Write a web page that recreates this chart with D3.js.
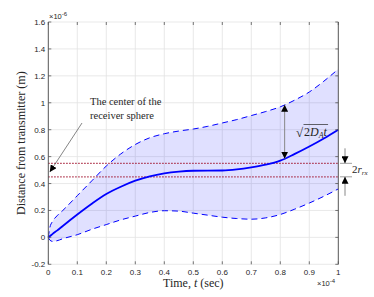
<!DOCTYPE html>
<html>
<head>
<meta charset="utf-8">
<script src="https://cdn.jsdelivr.net/npm/d3@7"></script>
<style>
  body { margin: 0; background: #fff; }
  .tick-label { font-family: 'Liberation Sans', Arial, sans-serif; font-size: 8px; fill: #262626; }
  .serif { font-family: 'Liberation Serif', 'Times New Roman', serif; fill: #262626; }
</style>
</head>
<body>
<div class="container"></div>
<script>
// time in units of 1e-4 s, distances in units of 1e-6 m
const time = [0, 0.005, 0.015, 0.03, 0.05, 0.1, 0.15, 0.2, 0.25, 0.3, 0.35, 0.4, 0.45, 0.5, 0.55, 0.6, 0.65, 0.7, 0.75, 0.8, 0.85, 0.9, 0.95, 1.0];
const meanDist = [0, 0.008, 0.026, 0.05, 0.085, 0.17, 0.25, 0.322, 0.376, 0.421, 0.454, 0.476, 0.489, 0.495, 0.496, 0.497, 0.505, 0.52, 0.54, 0.57, 0.62, 0.675, 0.735, 0.80];
const upperDist = [0, 0.07, 0.12, 0.16, 0.2, 0.31, 0.42, 0.53, 0.62, 0.69, 0.74, 0.77, 0.79, 0.805, 0.825, 0.85, 0.875, 0.905, 0.935, 0.97, 1.02, 1.08, 1.16, 1.25];
const lowerDist = [0, -0.02, -0.03, -0.025, -0.01, 0.02, 0.06, 0.095, 0.13, 0.158, 0.185, 0.198, 0.195, 0.18, 0.165, 0.15, 0.14, 0.135, 0.145, 0.17, 0.21, 0.255, 0.305, 0.36];
const rxLevels = [0.45, 0.55];
const xTicks = [0, 0.1, 0.2, 0.3, 0.4, 0.5, 0.6, 0.7, 0.8, 0.9, 1];
const yTicks = [-0.2, 0, 0.2, 0.4, 0.6, 0.8, 1, 1.2, 1.4, 1.6];
const arrowTime = 0.815;

const width = 374;
const height = 297;
const pLeft = 48.3, pRight = 338.3, pTop = 22, pBottom = 264.3;

const svg = d3
  .select('.container')
  .append('svg')
  .attr('width', width)
  .attr('height', height);

const x = d3.scaleLinear().domain([0, 1]).range([pLeft, pRight]);
const y = d3.scaleLinear().domain([-0.2, 1.6]).range([pBottom, pTop]);

const data = time.map((t, i) => ({ t, mean: meanDist[i], up: upperDist[i], lo: lowerDist[i] }));

// value of a series at time t (linear between samples)
const valueAt = (arr, t) => {
  const i = d3.bisectRight(time, t) - 1;
  const f = (t - time[i]) / (time[i + 1] - time[i]);
  return arr[i] + f * (arr[i + 1] - arr[i]);
};

const defs = svg.append('defs');
defs
  .append('marker')
  .attr('id', 'tri')
  .attr('viewBox', '0 0 10 10')
  .attr('refX', 10)
  .attr('refY', 5)
  .attr('markerUnits', 'userSpaceOnUse')
  .attr('markerWidth', 7)
  .attr('markerHeight', 7)
  .attr('orient', 'auto-start-reverse')
  .append('path')
  .attr('d', 'M0,0L10,5L0,10Z')
  .attr('fill', '#000');

// grid
const grid = svg.append('g').attr('class', 'grid');
grid
  .selectAll('.gx')
  .data(xTicks.slice(1, -1))
  .enter()
  .append('line')
  .attr('x1', d => x(d))
  .attr('x2', d => x(d))
  .attr('y1', pTop)
  .attr('y2', pBottom)
  .attr('stroke', '#e3e3e3')
  .attr('stroke-width', 0.8);
grid
  .selectAll('.gy')
  .data(yTicks)
  .enter()
  .append('line')
  .attr('x1', pLeft)
  .attr('x2', pRight)
  .attr('y1', d => y(d))
  .attr('y2', d => y(d))
  .attr('stroke', '#e3e3e3')
  .attr('stroke-width', 0.8);

const curve = d3.curveMonotoneX;

// shaded band
svg
  .append('path')
  .datum(data)
  .attr('d', d3.area().curve(curve).x(d => x(d.t)).y0(d => y(d.lo)).y1(d => y(d.up)))
  .attr('fill', '#0000ff')
  .attr('fill-opacity', 0.12);

// receiver sphere limits
svg
  .selectAll('.rx')
  .data(rxLevels)
  .enter()
  .append('line')
  .attr('x1', x(0))
  .attr('x2', x(1))
  .attr('y1', d => y(d))
  .attr('y2', d => y(d))
  .attr('stroke', '#a2142f')
  .attr('stroke-width', 1.3)
  .attr('stroke-dasharray', '1.3,1.7');

['up', 'lo'].forEach(k => {
  svg
    .append('path')
    .datum(data)
    .attr('d', d3.line().curve(curve).x(d => x(d.t)).y(d => y(d[k])))
    .attr('fill', 'none')
    .attr('stroke', '#0000ff')
    .attr('stroke-width', 1)
    .attr('stroke-dasharray', '6,4');
});

svg
  .append('path')
  .datum(data)
  .attr('d', d3.line().curve(curve).x(d => x(d.t)).y(d => y(d.mean)))
  .attr('fill', 'none')
  .attr('stroke', '#0000ff')
  .attr('stroke-width', 1.8);

// axes: left and right lines, ticks on all four sides
const axis = svg.append('g').attr('class', 'axes');
axis.append('line').attr('x1', pLeft).attr('x2', pLeft).attr('y1', pTop).attr('y2', pBottom)
  .attr('stroke', '#555').attr('stroke-width', 1);
axis.append('line').attr('x1', pRight).attr('x2', pRight).attr('y1', pTop).attr('y2', pBottom)
  .attr('stroke', '#555').attr('stroke-width', 1);

xTicks.forEach(d => {
  axis.append('line').attr('x1', x(d)).attr('x2', x(d)).attr('y1', pTop).attr('y2', pTop + 3)
    .attr('stroke', '#555').attr('stroke-width', 0.8);
  axis.append('line').attr('x1', x(d)).attr('x2', x(d)).attr('y1', pBottom).attr('y2', pBottom - 3)
    .attr('stroke', '#555').attr('stroke-width', 0.8);
});
yTicks.forEach(d => {
  axis.append('line').attr('x1', pLeft).attr('x2', pLeft + 3).attr('y1', y(d)).attr('y2', y(d))
    .attr('stroke', '#555').attr('stroke-width', 0.8);
  axis.append('line').attr('x1', pRight).attr('x2', pRight - 3).attr('y1', y(d)).attr('y2', y(d))
    .attr('stroke', '#555').attr('stroke-width', 0.8);
});

axis
  .selectAll('.xl')
  .data(xTicks)
  .enter()
  .append('text')
  .attr('class', 'tick-label')
  .attr('x', d => x(d))
  .attr('y', pBottom + 11)
  .attr('text-anchor', 'middle')
  .text(d => d3.format('~g')(d));

axis
  .selectAll('.yl')
  .data(yTicks)
  .enter()
  .append('text')
  .attr('class', 'tick-label')
  .attr('x', pLeft - 3)
  .attr('y', d => y(d) + 3)
  .attr('text-anchor', 'end')
  .text(d => d3.format('~g')(d).replace('−', '-'));

// exponent labels
const expo = (px, py, e) => {
  const tx = svg.append('text').attr('class', 'tick-label').attr('x', px).attr('y', py).style('font-size', '7.5px');
  tx.append('tspan').text('×10');
  tx.append('tspan').attr('dy', -3).style('font-size', '6px').text(e);
};
expo(49, 19, '-6');
expo(317, 286, '-4');

// axis titles
svg
  .append('text')
  .attr('class', 'serif')
  .attr('transform', `translate(25, ${(pTop + pBottom) / 2}) rotate(-90)`)
  .attr('text-anchor', 'middle')
  .style('font-size', '12px')
  .text('Distance from transmitter (m)');

const xt = svg
  .append('text')
  .attr('class', 'serif')
  .attr('x', (pLeft + pRight) / 2)
  .attr('y', 287)
  .attr('text-anchor', 'middle')
  .style('font-size', '12px');
xt.append('tspan').text('Time, ');
xt.append('tspan').style('font-style', 'italic').text('t');
xt.append('tspan').text(' (sec)');

// annotation: center of receiver sphere
svg
  .append('text')
  .attr('class', 'serif')
  .attr('x', 90)
  .attr('y', 105)
  .style('font-size', '10.5px')
  .text('The center of the');
svg
  .append('text')
  .attr('class', 'serif')
  .attr('x', 90)
  .attr('y', 118.5)
  .style('font-size', '10.5px')
  .text('receiver sphere');
svg
  .append('line')
  .attr('x1', 82)
  .attr('y1', 123)
  .attr('x2', x(0) + 1.5)
  .attr('y2', y((rxLevels[0] + rxLevels[1]) / 2) + 2)
  .attr('stroke', '#333')
  .attr('stroke-width', 0.6)
  .attr('marker-end', 'url(#tri)');

// sqrt(2 D_A t) arrow
const ax = x(arrowTime);
svg
  .append('line')
  .attr('x1', ax)
  .attr('x2', ax)
  .attr('y1', y(valueAt(meanDist, arrowTime)))
  .attr('y2', y(valueAt(upperDist, arrowTime)))
  .attr('stroke', '#888')
  .attr('stroke-width', 1)
  .attr('marker-start', 'url(#tri)')
  .attr('marker-end', 'url(#tri)');

const sq = svg.append('g');
sq.append('text').attr('class', 'serif').attr('x', 296).attr('y', 137).style('font-size', '13px').text('√');
const rad = sq.append('text').attr('class', 'serif').attr('x', 304).attr('y', 136).style('font-size', '12px');
rad.append('tspan').text('2');
rad.append('tspan').style('font-style', 'italic').text('D');
rad.append('tspan').style('font-style', 'italic').style('font-size', '8px').attr('dy', 2).text('A');
rad.append('tspan').style('font-style', 'italic').attr('dy', -2).text('t');
const rb = rad.node().getBBox();
sq.append('line')
  .attr('x1', 303.5)
  .attr('x2', rb.x + rb.width + 0.5)
  .attr('y1', 124.5)
  .attr('y2', 124.5)
  .attr('stroke', '#262626')
  .attr('stroke-width', 0.7);

// 2 r_rx marker on the right
const mx = 345;
rxLevels.forEach(d => {
  svg.append('line').attr('x1', mx - 5).attr('x2', mx + 7).attr('y1', y(d)).attr('y2', y(d))
    .attr('stroke', '#888').attr('stroke-width', 0.8);
});
svg
  .append('line')
  .attr('x1', mx)
  .attr('x2', mx)
  .attr('y1', y(rxLevels[1]) - 15)
  .attr('y2', y(rxLevels[1]))
  .attr('stroke', '#888')
  .attr('stroke-width', 1)
  .attr('marker-end', 'url(#tri)');
svg
  .append('line')
  .attr('x1', mx)
  .attr('x2', mx)
  .attr('y1', y(rxLevels[0]) + 19)
  .attr('y2', y(rxLevels[0]))
  .attr('stroke', '#888')
  .attr('stroke-width', 1)
  .attr('marker-end', 'url(#tri)');

const rr = svg.append('text').attr('class', 'serif').attr('x', 352).attr('y', 173).style('font-size', '11px');
rr.append('tspan').text('2');
rr.append('tspan').style('font-style', 'italic').text('r');
rr.append('tspan').style('font-style', 'italic').style('font-size', '7px').attr('dy', 2).text('rx');
</script>
</body>
</html>
